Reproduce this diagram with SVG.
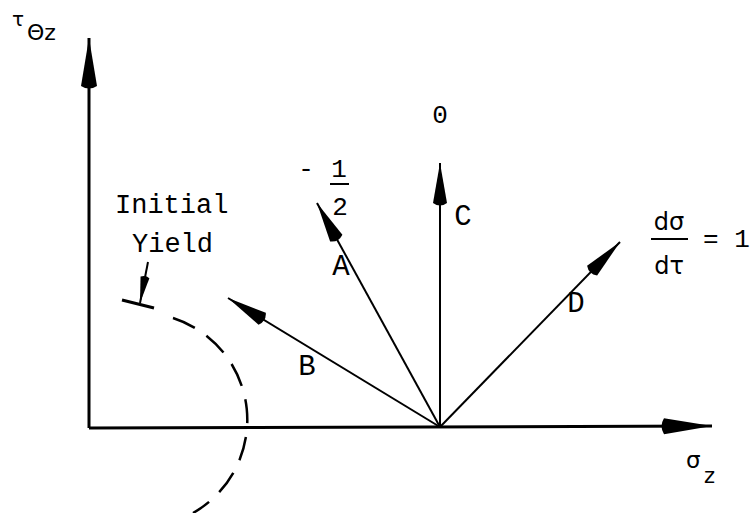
<svg xmlns="http://www.w3.org/2000/svg" width="753" height="513" viewBox="0 0 753 513">
<style>
  .mono { font-family: "Liberation Mono", "DejaVu Sans Mono", monospace; fill: #000; }
  .greek { font-family: "DejaVu Sans", "Liberation Sans", sans-serif; fill: #000; }
  .axis { stroke: #000; stroke-width: 3; fill: none; }
  .vec { stroke: #000; stroke-width: 2; fill: none; }
</style>
<defs>
  <marker id="bigHead" markerUnits="userSpaceOnUse" viewBox="-52 -10 54 20" refX="0" refY="0" markerWidth="54" markerHeight="20" orient="auto">
    <path d="M0,0 L-48,-8 Q-53,0 -48,8 Z" fill="#000"/>
  </marker>
  <marker id="smallHead" markerUnits="userSpaceOnUse" viewBox="-46 -9 48 18" refX="0" refY="0" markerWidth="48" markerHeight="18" orient="auto">
    <path d="M0,0 L-40,-7 Q-45,0 -40,7 Z" fill="#000"/>
  </marker>
  <marker id="tinyHead" markerUnits="userSpaceOnUse" viewBox="-30 -6 32 12" refX="0" refY="0" markerWidth="32" markerHeight="12" orient="auto">
    <path d="M0,0 L-26,-4.5 Q-29,0 -26,4.5 Z" fill="#000"/>
  </marker>
</defs>

<g id="connectors">
  <path id="axis-tau" class="axis" d="M89,428 L89,38" marker-end="url(#bigHead)"/>
  <path id="axis-sigma" class="axis" d="M89,428 L712,426" marker-end="url(#bigHead)"/>
  <path id="vec-A" class="vec" d="M440,427 L317,203" marker-end="url(#smallHead)"/>
  <path id="vec-B" class="vec" d="M440,427 L228,298" marker-end="url(#smallHead)"/>
  <path id="vec-C" class="vec" d="M440,427 L440,163" marker-end="url(#smallHead)"/>
  <path id="vec-D" class="vec" d="M440,427 L620,242" marker-end="url(#smallHead)"/>
  <path id="yield-pointer" class="vec" d="M148,262 L140,303" marker-end="url(#tinyHead)"/>
  <path id="yield-bar" d="M122,300 L154,308" stroke="#000" stroke-width="3" fill="none"/>
</g>

<g id="yield-surface">
  <path d="M173,318 A107,107 0 0 1 193,513" stroke="#000" stroke-width="2.5" fill="none" stroke-dasharray="24 14"/>
</g>

<g id="axis-labels">
  <text class="greek" x="12" y="26" font-size="20">τ</text>
  <text class="greek" x="27" y="40" font-size="22">Θz</text>
  <text class="greek" x="686" y="468" font-size="23">σ</text>
  <text class="greek" x="704" y="483" font-size="21">z</text>
</g>

<g id="label-initial-yield">
  <text class="mono" x="115" y="213" font-size="27">Initial</text>
  <text class="mono" x="132" y="252" font-size="27">Yield</text>
</g>

<g id="label-zero">
  <text class="mono" x="440" y="123" font-size="26" text-anchor="middle">0</text>
</g>

<g id="label-minus-half">
  <text class="mono" x="306" y="177" font-size="26" text-anchor="middle">-</text>
  <text class="mono" x="339" y="177" font-size="26" text-anchor="middle">1</text>
  <line x1="330" y1="184" x2="349" y2="184" stroke="#000" stroke-width="2"/>
  <text class="mono" x="340" y="215" font-size="26" text-anchor="middle">2</text>
</g>

<g id="label-slope-one">
  <text class="greek" x="669" y="230" font-size="24" text-anchor="middle">dσ</text>
  <line x1="651" y1="239" x2="688" y2="239" stroke="#000" stroke-width="2"/>
  <text class="greek" x="669" y="274" font-size="24" text-anchor="middle">dτ</text>
  <text class="mono" x="703" y="247" font-size="26">= 1</text>
</g>

<g id="vector-labels">
  <text class="mono" x="341" y="275" font-size="29" text-anchor="middle">A</text>
  <text class="mono" x="307" y="375" font-size="29" text-anchor="middle">B</text>
  <text class="mono" x="463" y="225" font-size="29" text-anchor="middle">C</text>
  <text class="mono" x="576" y="312" font-size="29" text-anchor="middle">D</text>
</g>
</svg>
